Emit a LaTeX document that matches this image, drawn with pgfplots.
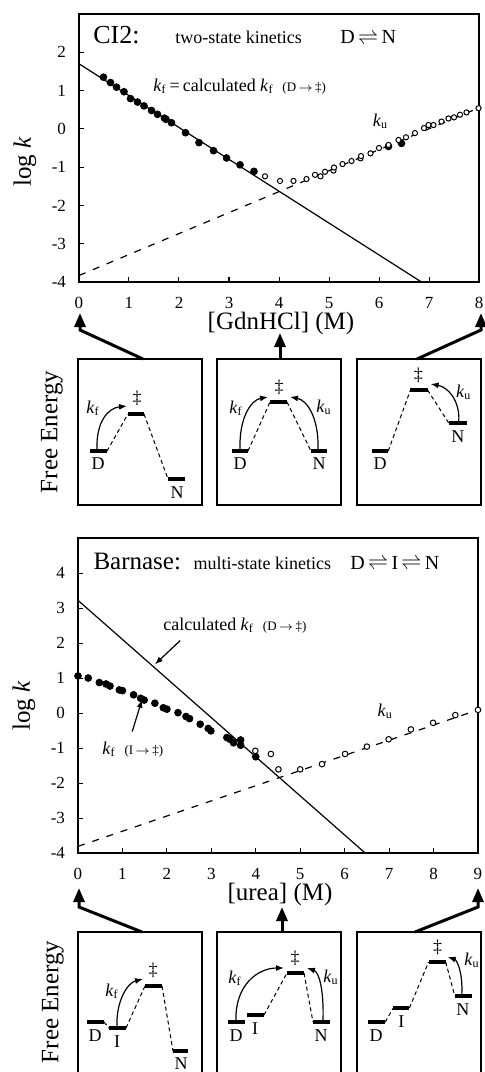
\documentclass[border=0pt]{standalone}
\usepackage{fontspec}
\setmainfont{Liberation Serif}
\usepackage{pgfplots}
\pgfplotsset{compat=1.18}
\usetikzlibrary{arrows.meta}
\newcommand{\kf}{\textit{k}\textsubscript{f}}
\newcommand{\ku}{\textit{k}\textsubscript{u}}
\newcommand{\fs}[1]{\fontsize{#1}{#1}\selectfont}
\pgfplotsset{
  kplot/.style={scale only axis, width=200pt,
    axis line style={line width=0.6pt}, tick align=inside, tick pos=left,
    major tick length=2.5pt, tick style={line width=0.5pt,black},
    ticklabel style={font=\fs{8.5}, inner sep=0pt},
    /pgf/number format/assume math mode=true,
    xticklabel style={yshift=-7.3pt}, yticklabel style={xshift=-6.3pt},
    label style={font=\fs{12.5}, inner sep=0pt}, clip mode=individual},
  ediag/.style={scale only axis, width=62pt, ticks=none,
    axis line style={line width=0.6pt}, clip=false},
  lev/.style={line width=2.2pt, black},
  con/.style={line width=0.5pt, black, dash pattern=on 2pt off 1.5pt},
}
\tikzset{
  rate/.style={line width=0.6pt, -{Latex[length=4pt,width=3pt]}},
  conn/.style={line width=1.5pt, -{Triangle[length=7pt,width=5.5pt]}},
  lab/.style={font=\fs{9}, inner sep=0pt},
}
\begin{document}
\begin{tikzpicture}

% ---------------- CI2 plot ----------------
\begin{axis}[kplot, at={(39.5pt,-141pt)}, anchor=south west, height=134pt,
  xmin=0, xmax=8, ymin=-4, ymax=3, xtick={0,...,8}, ytick={-4,...,2},
  xlabel={[GdnHCl] (M)}, ylabel={log \textit{k}},
  xlabel style={at={(axis description cs:0.505,-0.156)}, anchor=center},
  ylabel style={at={(axis description cs:-0.135,0.448)}, anchor=center}]
\addplot[line width=0.6pt] coordinates {(0,1.70) (6.85,-4)};
\addplot[line width=0.6pt, dash pattern=on 3.5pt off 4pt] coordinates {(0,-3.83) (8,0.55)};
\addplot[only marks, mark=*, mark size=1.7pt, black] coordinates {
(0.49,1.35)(0.63,1.21)(0.75,1.09)(0.90,0.97)(1.03,0.79)(1.17,0.70)(1.30,0.60)
(1.45,0.48)(1.57,0.38)(1.71,0.28)(1.74,0.25)(1.85,0.16)(2.13,-0.10)(2.40,-0.36)
(2.69,-0.57)(2.95,-0.76)(3.22,-0.94)(3.50,-1.11)(6.19,-0.46)(6.45,-0.38)};
\addplot[only marks, mark=*, mark size=1.3pt, mark options={fill=white, draw=black, line width=0.5pt}] coordinates {
(3.72,-1.24)(4.02,-1.36)(4.29,-1.36)(4.55,-1.31)(4.72,-1.20)(4.83,-1.24)(4.92,-1.12)
(5.09,-1.09)(5.10,-1.01)(5.27,-0.92)(5.45,-0.84)(5.63,-0.77)(5.64,-0.71)(5.83,-0.64)
(6.00,-0.50)(6.19,-0.42)(6.39,-0.29)(6.54,-0.22)(6.72,-0.11)(6.90,0.02)
(6.99,0.10)(7.09,0.10)(7.25,0.19)(7.39,0.27)(7.50,0.30)(7.62,0.37)(7.75,0.43)(7.99,0.54)};
\node[anchor=base west, inner sep=0pt, font=\fs{13}] at (axis cs:0.28,2.23) {CI2:};
\node[anchor=base west, inner sep=0pt, font=\fs{9}] at (axis cs:1.92,2.23) {two-state kinetics};
\node[anchor=base west, inner sep=0pt, font=\fs{10}] at (axis cs:5.22,2.23) {D\,$\rightleftharpoons$\,N};
\node[anchor=base west, inner sep=0pt, font=\fs{9}] at (axis cs:1.48,0.97) {\kf\,=\,calculated \kf\ \ {\fs{6.5}(D\,$\rightarrow$\,‡)}};
\node[anchor=base west, inner sep=0pt, font=\fs{9}] at (axis cs:5.87,0.055) {\ku};
\end{axis}

% ---------------- Barnase plot ----------------
\begin{axis}[kplot, at={(39pt,-426.5pt)}, anchor=south west, height=157.5pt,
  xmin=0, xmax=9, ymin=-4, ymax=5, xtick={0,...,9}, ytick={-4,...,4},
  xlabel={[urea] (M)}, ylabel={log \textit{k}},
  xlabel style={at={(axis description cs:0.505,-0.131)}, anchor=center},
  ylabel style={at={(axis description cs:-0.135,0.467)}, anchor=center}]
\addplot[line width=0.6pt] coordinates {(0,3.22) (6.46,-4)};
\addplot[line width=0.6pt, dash pattern=on 3.5pt off 4pt] coordinates {(0,-3.81) (9,0.09)};
\addplot[only marks, mark=*, mark size=1.7pt, black] coordinates {
(0,1.06)(0.23,1.00)(0.48,0.87)(0.63,0.83)(0.72,0.77)(0.93,0.66)(1.00,0.64)(1.25,0.52)
(1.41,0.42)(1.49,0.37)(1.73,0.28)(1.92,0.15)(2.00,0.11)(2.25,0.01)(2.43,-0.10)(2.51,-0.16)
(2.75,-0.32)(2.93,-0.44)(2.99,-0.51)(3.35,-0.70)(3.42,-0.75)(3.50,-0.85)(3.66,-0.77)
(3.66,-0.92)(4.00,-1.25)};
\addplot[only marks, mark=*, mark size=1.4pt, mark options={fill=white, draw=black, line width=0.5pt}] coordinates {
(3.99,-1.08)(4.34,-1.17)(4.51,-1.61)(5.00,-1.61)(5.49,-1.46)(6.01,-1.17)(6.50,-0.96)
(6.99,-0.75)(7.49,-0.47)(7.99,-0.28)(8.49,-0.06)(9.00,0.09)};
\node[anchor=base west, inner sep=0pt, font=\fs{12.5}] at (axis cs:0.34,4.11) {Barnase:};
\node[anchor=base west, inner sep=0pt, font=\fs{9}] at (axis cs:2.59,4.11) {multi-state kinetics};
\node[anchor=base west, inner sep=0pt, font=\fs{10}] at (axis cs:6.12,4.11) {D\,$\rightleftharpoons$\,I\,$\rightleftharpoons$\,N};
\node[anchor=base west, inner sep=0pt, font=\fs{9}] at (axis cs:1.91,2.37) {calculated \kf\ \ {\fs{6.5}(D\,$\rightarrow$\,‡)}};
\node[anchor=base west, inner sep=0pt, font=\fs{9}] at (axis cs:0.54,-1.19) {\kf\ \ {\fs{6.5}(I\,$\rightarrow$\,‡)}};
\node[anchor=base west, inner sep=0pt, font=\fs{9}] at (axis cs:6.73,-0.11) {\ku};
\draw[line width=0.6pt, -{Latex[length=4pt,width=3pt]}] (axis cs:2.30,2.07) -- (axis cs:1.73,1.39);
\draw[line width=0.6pt, -{Latex[length=4pt,width=3pt]}] (axis cs:1.22,-0.53) -- (axis cs:1.44,0.38);
\end{axis}

% ---------------- connectors ----------------
\draw[conn] (71.5pt,-179.5pt) -- (40pt,-165pt) -- (40pt,-156.5pt);
\draw[conn] (140pt,-179.5pt) -- (140pt,-166.5pt);
\draw[conn] (208.5pt,-179.5pt) -- (240.5pt,-165pt) -- (240.5pt,-156.5pt);
\draw[conn] (71pt,-466pt) -- (39.5pt,-453.5pt) -- (39.5pt,-444pt);
\draw[conn] (141pt,-466pt) -- (141pt,-453.5pt);
\draw[conn] (207.5pt,-466pt) -- (239pt,-453.5pt) -- (239pt,-444pt);

\node[rotate=90, font=\fs{12.5}] at (26pt,-216pt) {Free Energy};
\node[rotate=90, font=\fs{12.5}] at (26.5pt,-501pt) {Free Energy};

% ---------------- CI2 diagrams ----------------
\begin{axis}[ediag, at={(39pt,-252.5pt)}, anchor=south west, height=73pt, xmin=78, xmax=202, ymin=-505, ymax=-359]
\addplot[lev] coordinates {(90,-451)(107,-451)};
\addplot[lev] coordinates {(128,-414)(144,-414)};
\addplot[lev] coordinates {(168,-479)(185,-479)};
\addplot[con] coordinates {(107,-451)(128,-414)};
\addplot[con] coordinates {(144,-414)(168,-479)};
\node[lab] at (98,-464) {D};
\node[lab] at (137,-398) {‡};
\node[lab] at (177,-493) {N};
\draw[rate] (97,-449) .. controls (96,-422) and (108,-408) .. (127,-406);
\node[lab] at (93,-408) {\kf};
\end{axis}
\begin{axis}[ediag, at={(108.5pt,-252.5pt)}, anchor=south west, height=73pt, xmin=217, xmax=341, ymin=-505, ymax=-359]
\addplot[lev] coordinates {(232,-451)(248,-451)};
\addplot[lev] coordinates {(270,-402)(287,-402)};
\addplot[lev] coordinates {(311,-451)(327,-451)};
\addplot[con] coordinates {(248,-451)(270,-402)};
\addplot[con] coordinates {(287,-402)(311,-451)};
\node[lab] at (240,-464) {D};
\node[lab] at (279,-387) {‡};
\node[lab] at (319,-464) {N};
\draw[rate] (240,-449) .. controls (239,-418) and (251,-400) .. (268,-397);
\draw[rate] (318,-449) .. controls (319,-418) and (307,-400) .. (290,-397);
\node[lab] at (236,-408) {\kf};
\node[lab] at (324,-407) {\ku};
\end{axis}
\begin{axis}[ediag, at={(178.5pt,-252.5pt)}, anchor=south west, height=73pt, xmin=357, xmax=480, ymin=-505, ymax=-359]
\addplot[lev] coordinates {(372,-451)(388,-451)};
\addplot[lev] coordinates {(410,-390)(427,-390)};
\addplot[lev] coordinates {(448,-423)(466,-423)};
\addplot[con] coordinates {(388,-451)(410,-390)};
\addplot[con] coordinates {(427,-390)(448,-423)};
\node[lab] at (380,-464) {D};
\node[lab] at (418,-375) {‡};
\node[lab] at (457,-437) {N};
\draw[rate] (458,-421) .. controls (459,-400) and (447,-387) .. (430,-384);
\node[lab] at (463,-392) {\ku};
\end{axis}

% ---------------- Barnase diagrams ----------------
\begin{axis}[ediag, at={(39pt,-535.5pt)}, anchor=south west, height=69.5pt, xmin=78, xmax=202, ymin=-1071, ymax=-932, axis line style={draw=none}]
\draw[line width=0.6pt] (78,-1072) -- (78,-932) -- (202,-932) -- (202,-1072);
\addplot[lev] coordinates {(87,-1022)(104,-1022)};
\addplot[lev] coordinates {(109,-1028)(126,-1028)};
\addplot[lev] coordinates {(145,-986)(162,-986)};
\addplot[lev] coordinates {(173,-1051)(188,-1051)};
\addplot[con] coordinates {(104,-1022)(109,-1028)};
\addplot[con] coordinates {(126,-1028)(145,-986)};
\addplot[con] coordinates {(162,-986)(173,-1051)};
\node[lab] at (95,-1036) {D};
\node[lab] at (117,-1042) {I};
\node[lab] at (153,-970) {‡};
\node[lab] at (181,-1064) {N};
\draw[rate] (117,-1026) .. controls (116,-1002) and (127,-983) .. (143,-979);
\node[lab] at (112,-991) {\kf};
\end{axis}
\begin{axis}[ediag, at={(108.5pt,-535.5pt)}, anchor=south west, height=69.5pt, xmin=217, xmax=341, ymin=-1071, ymax=-932, axis line style={draw=none}]
\draw[line width=0.6pt] (217,-1072) -- (217,-932) -- (341,-932) -- (341,-1072);
\addplot[lev] coordinates {(228,-1022)(245,-1022)};
\addplot[lev] coordinates {(247,-1015)(264,-1015)};
\addplot[lev] coordinates {(287,-973)(304,-973)};
\addplot[lev] coordinates {(313,-1022)(330,-1022)};
\addplot[con] coordinates {(264,-1015)(287,-973)};
\addplot[con] coordinates {(304,-973)(313,-1022)};
\node[lab] at (236,-1036) {D};
\node[lab] at (255,-1029) {I};
\node[lab] at (295,-958) {‡};
\node[lab] at (321,-1036) {N};
\draw[rate] (236,-1020) .. controls (235,-985) and (258,-968) .. (284,-968);
\draw[rate] (323,-1020) .. controls (324,-990) and (319,-972) .. (307,-968);
\node[lab] at (235,-978) {\kf};
\node[lab] at (331,-977) {\ku};
\end{axis}
\begin{axis}[ediag, at={(178.5pt,-535.5pt)}, anchor=south west, height=69.5pt, xmin=357, xmax=480, ymin=-1071, ymax=-932, axis line style={draw=none}]
\draw[line width=0.6pt] (357,-1072) -- (357,-932) -- (480,-932) -- (480,-1072);
\addplot[lev] coordinates {(368,-1022)(385,-1022)};
\addplot[lev] coordinates {(393,-1008)(409,-1008)};
\addplot[lev] coordinates {(428,-962)(445,-962)};
\addplot[lev] coordinates {(454,-996)(471,-996)};
\addplot[con] coordinates {(385,-1022)(393,-1008)};
\addplot[con] coordinates {(409,-1008)(428,-962)};
\addplot[con] coordinates {(445,-962)(454,-996)};
\node[lab] at (376,-1036) {D};
\node[lab] at (401,-1022) {I};
\node[lab] at (437,-947) {‡};
\node[lab] at (462,-1010) {N};
\draw[rate] (461,-994) .. controls (462,-972) and (456,-960) .. (447,-957);
\node[lab] at (471,-960) {\ku};
\end{axis}

\pgfresetboundingbox
\path[use as bounding box] (0pt,0pt) rectangle (242pt,-536pt);
\end{tikzpicture}
\end{document}
